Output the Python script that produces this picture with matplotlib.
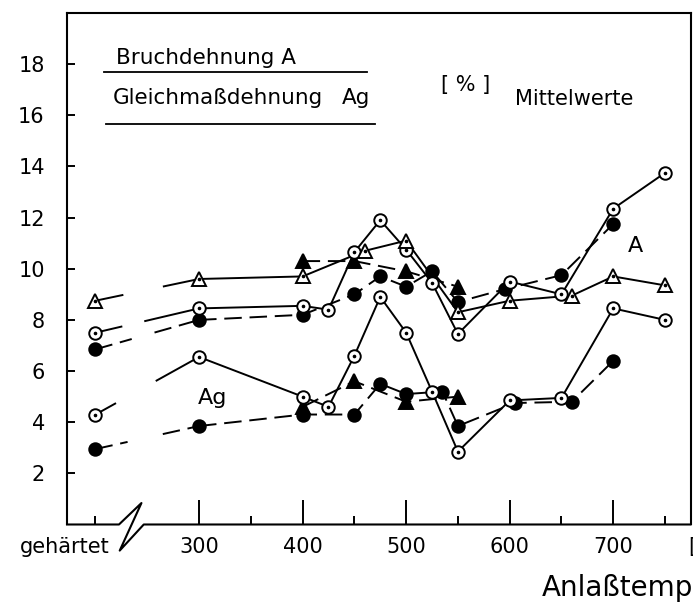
import numpy as np
import matplotlib.pyplot as plt
from matplotlib.lines import Line2D

plt.rcParams['font.family'] = ['DejaVu Sans']

# hardened state is drawn left of the axis break
GEH = 200

# Bruchdehnung A
t_A_circ = [GEH, 300, 400, 425, 450, 475, 500, 525, 550, 600, 650, 700, 750]
A_circ = [7.5, 8.45, 8.55, 8.4, 10.65, 11.9, 10.75, 9.45, 7.45, 9.5, 9.0, 12.35, 13.75]

t_A_tri = [GEH, 300, 400, 460, 500, 550, 600, 660, 700, 750]
A_tri = [8.75, 9.6, 9.7, 10.7, 11.1, 8.3, 8.75, 8.95, 9.7, 9.35]

t_A_dot = [GEH, 300, 400, 450, 475, 500, 525, 550, 595, 650, 700]
A_dot = [6.85, 8.0, 8.2, 9.0, 9.7, 9.3, 9.9, 8.7, 9.2, 9.75, 11.75]

t_A_ftri = [400, 450, 500, 550]
A_ftri = [10.3, 10.3, 9.9, 9.3]

# Gleichmassdehnung Ag
t_Ag_circ = [GEH, 300, 400, 425, 450, 475, 500, 525, 550, 600, 650, 700, 750]
Ag_circ = [4.3, 6.55, 5.0, 4.6, 6.6, 8.9, 7.5, 5.2, 2.85, 4.85, 4.95, 8.45, 8.0]

t_Ag_dot = [GEH, 300, 400, 450, 475, 500, 535, 550, 605, 660, 700]
Ag_dot = [2.95, 3.85, 4.3, 4.3, 5.5, 5.1, 5.2, 3.85, 4.75, 4.8, 6.4]

t_Ag_ftri = [400, 450, 500, 550]
Ag_ftri = [4.6, 5.6, 4.8, 5.0]

y_ticks = [2, 4, 6, 8, 10, 12, 14, 16, 18]
x_ticks = [300, 400, 500, 600, 700]

DASH = (0, (9, 4))


def draw(ax, t, v, ls, marker, filled, gap=None):
    t = np.asarray(t, float)
    v = np.asarray(v, float)
    kw = dict(color='black', lw=1.4, linestyle=ls, zorder=2)
    if gap is not None:
        # leg from the hardened state is interrupted at the axis break
        g = np.interp(gap, t[:2], v[:2])
        ax.plot([t[0], gap[0]], [v[0], g[0]], **kw)
        ax.plot([gap[1], t[1]], [g[1], v[1]], **kw)
        ax.plot(t[1:], v[1:], **kw)
    else:
        ax.plot(t, v, **kw)
    ms = 10 if marker == '^' else 9
    ax.plot(t, v, linestyle='none', marker=marker, ms=ms, mew=1.4,
            mec='black', mfc='black' if filled else 'white', zorder=3)
    if not filled:
        ax.plot(t, v, linestyle='none', marker='o', ms=1.6,
                color='black', zorder=4)


fig = plt.figure(figsize=(6.93, 6.03), dpi=100)
ax = fig.add_axes([0.0967, 0.1302, 0.8997, 0.8482])
ax.set_xlim(172.5, 774.6)
ax.set_ylim(0, 20)

draw(ax, t_A_dot, A_dot, DASH, 'o', True, gap=(235, 257))
draw(ax, t_A_ftri, A_ftri, DASH, '^', True)
draw(ax, t_Ag_dot, Ag_dot, DASH, 'o', True, gap=(231, 265))
draw(ax, t_Ag_ftri, Ag_ftri, DASH, '^', True)
draw(ax, t_A_circ, A_circ, '-', 'o', False, gap=(225, 248))
draw(ax, t_A_tri, A_tri, '-', '^', False, gap=(226, 266))
draw(ax, t_Ag_circ, Ag_circ, '-', 'o', False, gap=(219, 259))

# frame: bottom spine drawn by hand with the break symbol
for s in ['left', 'right', 'top']:
    ax.spines[s].set_linewidth(1.5)
ax.spines['bottom'].set_visible(False)
ax.add_line(Line2D([172.5, 222.7, 244.4, 223.4, 246.6, 774.6],
                   [0, 0, 0.84, -1.02, 0, 0],
                   color='black', lw=1.5, clip_on=False, zorder=5))

ax.set_yticks(y_ticks)
ax.set_yticklabels([str(v) for v in y_ticks], fontsize=15)
ax.set_yticks([2, 6, 10, 14, 18], minor=True)
ax.tick_params(axis='y', which='major', direction='in', length=6,
               width=1.4, pad=16)
ax.tick_params(axis='y', which='minor', direction='in', length=17,
               width=1.4)

ax.set_xticks(x_ticks)
ax.set_xticklabels([str(v) for v in x_ticks], fontsize=15)
ax.set_xticks([GEH, 350, 450, 550, 650, 750], minor=True)
ax.tick_params(axis='x', which='major', direction='in', length=17,
               width=1.4, pad=9)
ax.tick_params(axis='x', which='minor', direction='in', length=6,
               width=1.4)

ax.text(214, -1.11, 'gehärtet', fontsize=15, ha='right', va='baseline',
        clip_on=False)
ax.text(772, -1.11, '[°C]', fontsize=15, ha='left', va='baseline',
        clip_on=False)
ax.text(631, -2.8, 'Anlaßtemperatur', fontsize=20, ha='left',
        va='baseline', clip_on=False)

# header block
ax.text(220, 18.0, 'Bruchdehnung A', fontsize=15.5, va='baseline')
ax.plot([208, 462], [17.7, 17.7], color='black', lw=1.3)
ax.text(216.5, 16.43, 'Gleichmaßdehnung', fontsize=15.5, va='baseline')
ax.text(438, 16.43, 'Ag', fontsize=15.5, va='baseline')
ax.plot([210, 470], [15.67, 15.67], color='black', lw=1.3)
ax.text(534, 17.2, '[ % ]', fontsize=15, va='center')
ax.text(605, 16.39, 'Mittelwerte', fontsize=15, va='baseline')

ax.text(721, 10.9, 'A', fontsize=16, ha='center', va='center')
ax.text(313, 4.95, 'Ag', fontsize=16, ha='center', va='center')

fig.savefig('out.png', dpi=100)
